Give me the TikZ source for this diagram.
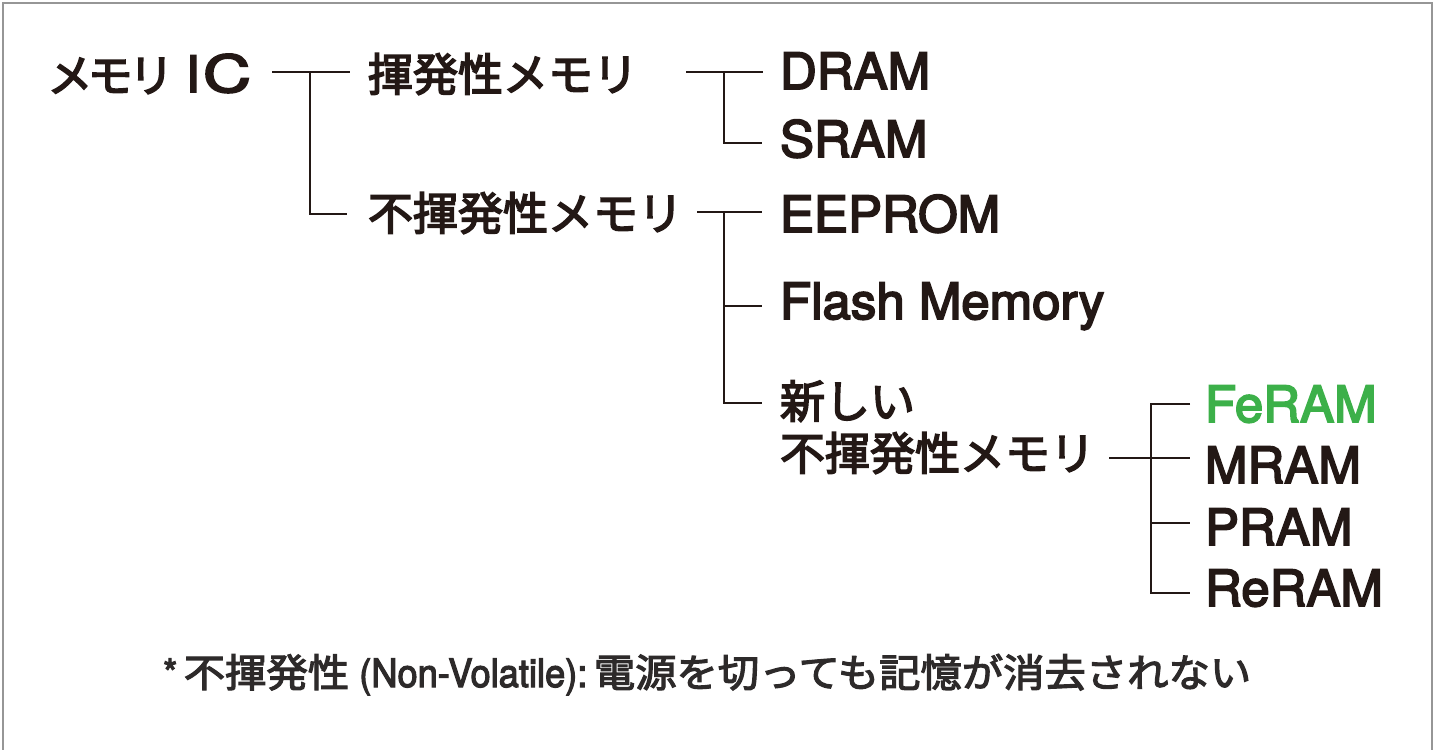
\documentclass[tikz,border=0pt]{standalone}
\usepackage{graphicx}
\usepackage{fontspec}
\newfontfamily\lat{TeX Gyre Heros}[FakeBold=3.5, FakeStretch=1.02]
\newfontfamily\cjk{Noto Sans CJK JP}[FakeBold=3.5, FakeStretch=1.0]
\newfontfamily\cjkp{Noto Sans CJK JP}[FakeBold=3.5, RawFeature=+palt]
\newfontfamily\latf{TeX Gyre Heros}[FakeBold=3, FakeStretch=0.93]
\newfontfamily\cjkf{Noto Sans CJK JP}[FakeBold=3, FakeStretch=1.06]
\definecolor{ink}{RGB}{35,24,21}
\definecolor{fegreen}{RGB}{60,176,73}
\definecolor{frame}{RGB}{150,150,150}
\definecolor{noteink}{RGB}{45,42,42}
\tikzset{
  txt/.style={anchor=base west, inner sep=0pt, outer sep=0pt, text=ink, font=\fontsize{50pt}{60pt}\selectfont\lat},
  jtxt/.style={anchor=base west, inner sep=0pt, outer sep=0pt, text=ink, font=\fontsize{45pt}{52pt}\selectfont\cjk, align=left},
  conn/.style={draw=ink, line width=2.6pt, line cap=butt, line join=miter}
}
\begin{document}
\begin{tikzpicture}[x=1pt,y=-1pt]
\useasboundingbox (0,0) rectangle (1439,749);
\fill[white] (0,0) rectangle (1439,749);
\draw[frame, line width=2pt] (3,760) -- (3,3) -- (1432,3) -- (1432,760);

% nodes
\node[jtxt] (root) at (50,92) {{\cjkp メモリ}\hspace{17pt}{\fontsize{50pt}{60pt}\selectfont\lat I\hspace{3pt}\scalebox{1.3}[1.02]{C}}};
\node[jtxt] (vol) at (368,91) {揮発性メモリ};
\node[jtxt] (nonvol) at (368,230) {不揮発性メモリ};
\node[txt] (dram) at (780,89) {DRAM};
\node[txt] (sram) at (780,157) {SRAM};
\node[txt] (eeprom) at (780,232) {EEPROM};
\node[txt] (flash) at (780,319) {Flash Memory};
\node[jtxt] (newnv) at (780,470) {新しい\\不揮発性メモリ};
\node[txt, text=fegreen] (feram) at (1205,422) {FeRAM};
\node[txt] (mram) at (1205,483) {MRAM};
\node[txt] (pram) at (1205,545) {PRAM};
\node[txt] (reram) at (1205,606) {ReRAM};
\node[anchor=base west, inner sep=0pt, text=noteink] (note) at (163,687)
  {\fontsize{39pt}{44pt}\selectfont\latf *\,{\cjkf 不揮発性} (Non-Volatile):\,{\cjkf 電源を切っても記憶が消去されない}};

% junction coordinates
\coordinate (r-out) at (272,72);
\coordinate (r-j) at (310,72);
\coordinate (r-jb) at (310,214);
\coordinate (vol-in) at (350,72);
\coordinate (nv-in) at (347,214);

\coordinate (v-out) at (686,72);
\coordinate (v-j) at (724,72);
\coordinate (v-jb) at (724,143);
\coordinate (dram-in) at (763,72);
\coordinate (sram-in) at (762,143);

\coordinate (n-out) at (697,212);
\coordinate (n-j) at (724,212);
\coordinate (n-jm) at (724,306);
\coordinate (n-jb) at (724,403);
\coordinate (ee-in) at (762,212);
\coordinate (fl-in) at (762,306);
\coordinate (new-in) at (762,403);

\coordinate (w-out) at (1109,458);
\coordinate (w-jt) at (1151,404);
\coordinate (w-jm) at (1151,458);
\coordinate (w-jp) at (1151,523);
\coordinate (w-jb) at (1151,593);
\coordinate (fe-in) at (1190,404);
\coordinate (mr-in) at (1190,458);
\coordinate (pr-in) at (1190,523);
\coordinate (re-in) at (1190,593);

% connectors
\draw[conn] (r-out) -- (vol-in);
\draw[conn] (r-j) -- (r-jb) -- (nv-in);
\draw[conn] (v-out) -- (dram-in);
\draw[conn] (v-j) -- (v-jb) -- (sram-in);
\draw[conn] (n-out) -- (ee-in);
\draw[conn] (n-j) -- (n-jb) -- (new-in);
\draw[conn] (n-jm) -- (fl-in);
\draw[conn] (w-out) -- (mr-in);
\draw[conn] (fe-in) -- (w-jt) -- (w-jb) -- (re-in);
\draw[conn] (w-jp) -- (pr-in);
\end{tikzpicture}
\end{document}
